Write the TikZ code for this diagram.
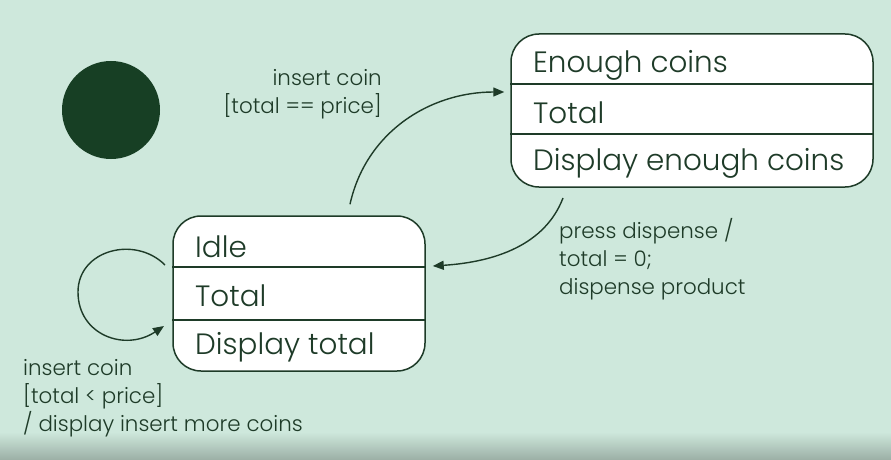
\documentclass[tikz,border=0pt]{standalone}
\usepackage{fontspec}
\setmainfont{Poppins Light}
\usetikzlibrary{arrows.meta,calc}
\definecolor{bg}{HTML}{CEE8DC}
\definecolor{ink}{HTML}{1E3B28}
\definecolor{dot}{HTML}{173F24}
\definecolor{band}{HTML}{9BAFA5}
\tikzset{
  statebox/.style={draw=ink,line width=1.5pt,fill=white,rounded corners=28pt,inner sep=0pt},
  divider/.style={draw=ink,line width=1.4pt},
  boxtext/.style={text=ink,font=\fontsize{29.4}{30}\selectfont,anchor=west,inner sep=0pt},
  lbl/.style={text=ink,font=\fontsize{21.4}{28}\selectfont,inner sep=0pt,align=left},
  trans/.style={draw=ink,line width=1.4pt,-{Triangle[length=11pt,width=9pt]}},
}
\begin{document}
\begin{tikzpicture}[x=1pt,y=-1pt]
\fill[bg] (0,0) rectangle (891,460);
\shade[top color=bg,bottom color=band] (0,432) rectangle (891,460);
\useasboundingbox (0,0) rectangle (891,460);

% initial state
\node[circle,fill=dot,minimum size=98pt,inner sep=0pt] (init) at (111,110) {};

% Enough coins box
\node[statebox,minimum width=362pt,minimum height=153pt] (ec) at (692,110.5) {};
\draw[divider] (ec.west |- 0,84) -- (ec.east |- 0,84);
\draw[divider] (ec.west |- 0,134) -- (ec.east |- 0,134);
\node[boxtext] (ec1) at (533,65) {Enough coins};
\node[boxtext] (ec2) at (533,113) {Total};
\node[boxtext] (ec3) at (533,163) {Display enough coins};

% Idle box
\node[statebox,minimum width=252pt,minimum height=155pt] (idle) at (299,293.5) {};
\draw[divider] (idle.west |- 0,267) -- (idle.east |- 0,267);
\draw[divider] (idle.west |- 0,320) -- (idle.east |- 0,320);
\node[boxtext] (id1) at (195,247) {Idle};
\node[boxtext] (id2) at (195,296) {Total};
\node[boxtext] (id3) at (195,347) {Display total};

% connectors
\coordinate (a1s) at ($(idle.north)+(51,-11)$);
\coordinate (a1e) at (ec.west |- 0,92);
\draw[trans] (a1s) .. controls (366,132) and (430,92) .. ($(a1e)+(-6,0)$);

\coordinate (a2s) at (563,198);
\coordinate (a2e) at (idle.east |- 0,266);
\draw[trans] (a2s) .. controls (545,245) and (495,262) .. ($(a2e)+(7,0)$);

\coordinate (a3s) at (165,265);
\coordinate (a3e) at (164,326);
\draw[trans] (a3s) .. controls (135,235) and (78,250) .. (78,292)
   .. controls (78,335) and (125,352) .. (a3e);

% labels
\node[lbl,anchor=north east,align=right] (l1) at (382,69) {insert coin\\{}[total == price]};
\node[lbl,anchor=north west] (l2) at (559,218) {press dispense /\\total = 0;\\dispense product};
\node[lbl,anchor=north west] (l3) at (23,359) {insert coin\\{}[total < price]\\/ display insert more coins};
\end{tikzpicture}
\end{document}
